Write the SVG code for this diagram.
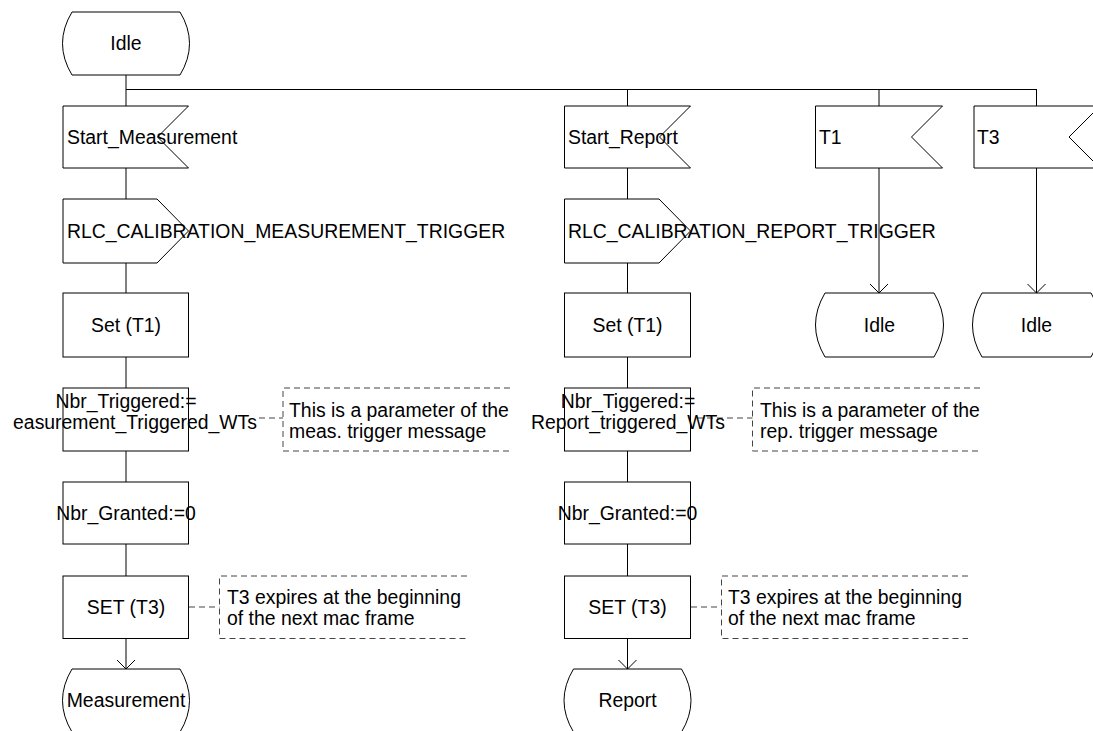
<svg xmlns="http://www.w3.org/2000/svg" width="1093" height="731" viewBox="0 0 1093 731">
<defs>
<marker id="arr" viewBox="0 0 20 20" markerWidth="20" markerHeight="20" refX="10" refY="10" orient="auto" markerUnits="userSpaceOnUse">
<path d="M1,1 L10,10 L1,19" fill="none" stroke="#000" stroke-width="1"/>
</marker>
</defs>
<style>
text{font-family:"Liberation Sans",Arial,sans-serif;font-size:19.4px;fill:#000}
.c{text-anchor:middle}
.e{text-anchor:end}
.sh{fill:#fff;stroke:#000;stroke-width:1}
.ln{fill:none;stroke:#000;stroke-width:1}
.cm{fill:none;stroke:#444;stroke-width:1;stroke-dasharray:6,4}
</style>
<rect width="1093" height="731" fill="#fff"/>
<g id="connectors">
<path class="ln" d="M126,75 V106 M126,89.5 H1036.5 M627.5,89 V106 M879,89 V106 M1036.5,89 V106"/>
<path class="ln" d="M126,168 V199 M126,263 V293 M126,357 V388 M126,451 V482 M126,544 V576"/>
<path class="ln" d="M627.5,168 V199 M627.5,263 V293 M627.5,357 V388 M627.5,451 V482 M627.5,544 V576"/>
<path class="ln" marker-end="url(#arr)" d="M126,638 V669"/>
<path class="ln" marker-end="url(#arr)" d="M627.5,638 V669"/>
<path class="ln" marker-end="url(#arr)" d="M879,168 V293"/>
<path class="ln" marker-end="url(#arr)" d="M1036.5,168 V293"/>
<path class="cm" d="M259,418 H283"/>
<path class="cm" d="M189,607 H219.5"/>
<path class="cm" d="M697,418 H752.5"/>
<path class="cm" d="M691,607 H721.5"/>
</g>
<g id="idle_start">
<path class="sh" d="M72,12 H180 Q199,43.5 180,75 H72 Q53,43.5 72,12 Z"/>
<text class="c" x="126" y="50">Idle</text>
</g>
<g id="start_measurement">
<path class="sh" d="M63,106 H188.5 L157.5,137 L188.5,168 H63 Z"/>
<text x="67" y="144">Start_Measurement</text>
</g>
<g id="rlc_meas_trigger">
<path class="sh" d="M63,199 H157 L188.5,231 L157,263 H63 Z"/>
<text x="67" y="237.5">RLC_CALIBRATION_MEASUREMENT_TRIGGER</text>
</g>
<g id="set_t1_a">
<rect class="sh" x="63" y="293" width="125.5" height="64"/>
<text class="c" x="126" y="332">Set (T1)</text>
</g>
<g id="nbr_triggered_a">
<rect class="sh" x="63" y="388" width="125.5" height="63"/>
<text class="c" x="126" y="408">Nbr_Triggered:=</text>
<text class="e" x="257" y="429">easurement_Triggered_WTs</text>
</g>
<g id="comment_meas">
<path class="cm" d="M510,388 H283 V451 H510"/>
<text x="289" y="416.5">This is a parameter of the</text>
<text x="289" y="437.5">meas. trigger message</text>
</g>
<g id="nbr_granted_a">
<rect class="sh" x="63" y="482" width="125.5" height="62"/>
<text class="c" x="126" y="519.5">Nbr_Granted:=0</text>
</g>
<g id="set_t3_a">
<rect class="sh" x="63" y="576" width="125.5" height="62.5"/>
<text class="c" x="126" y="613.5">SET (T3)</text>
</g>
<g id="comment_t3_a">
<path class="cm" d="M467,576 H219.5 V638.5 H467"/>
<text x="227" y="604">T3 expires at the beginning</text>
<text x="227" y="625">of the next mac frame</text>
</g>
<g id="measurement_state">
<path class="sh" d="M72,669 H180 Q199,700.5 180,732 H72 Q53,700.5 72,669 Z"/>
<text class="c" x="126" y="707">Measurement</text>
</g>
<g id="start_report">
<path class="sh" d="M564.5,106 H690.5 L659.5,137 L690.5,168 H564.5 Z"/>
<text x="568" y="144">Start_Report</text>
</g>
<g id="rlc_report_trigger">
<path class="sh" d="M564.5,199 H659 L690.5,231 L659,263 H564.5 Z"/>
<text x="568" y="237.5">RLC_CALIBRATION_REPORT_TRIGGER</text>
</g>
<g id="set_t1_b">
<rect class="sh" x="564.5" y="293" width="126" height="64"/>
<text class="c" x="627.5" y="332">Set (T1)</text>
</g>
<g id="nbr_triggered_b">
<rect class="sh" x="564.5" y="388" width="126" height="63"/>
<text class="c" x="628" y="408">Nbr_Tiggered:=</text>
<text class="e" x="725" y="429">Report_triggered_WTs</text>
</g>
<g id="comment_rep">
<path class="cm" d="M980,388 H752.5 V451 H980"/>
<text x="760" y="416.5">This is a parameter of the</text>
<text x="760" y="437.5">rep. trigger message</text>
</g>
<g id="nbr_granted_b">
<rect class="sh" x="564.5" y="482" width="126" height="62"/>
<text class="c" x="627.5" y="519.5">Nbr_Granted:=0</text>
</g>
<g id="set_t3_b">
<rect class="sh" x="564.5" y="576" width="126" height="62.5"/>
<text class="c" x="627.5" y="613.5">SET (T3)</text>
</g>
<g id="comment_t3_b">
<path class="cm" d="M968,576 H721.5 V638.5 H968"/>
<text x="728" y="604">T3 expires at the beginning</text>
<text x="728" y="625">of the next mac frame</text>
</g>
<g id="report_state">
<path class="sh" d="M573.5,669 H681.5 Q700.5,700.5 681.5,732 H573.5 Q554.5,700.5 573.5,669 Z"/>
<text class="c" x="627.5" y="707">Report</text>
</g>
<g id="t1_input">
<path class="sh" d="M815.5,106 H942.5 L911.5,137 L942.5,168 H815.5 Z"/>
<text x="819" y="144">T1</text>
</g>
<g id="idle_t1">
<path class="sh" d="M825,293 H934 Q953,325 934,357 H825 Q806,325 825,293 Z"/>
<text class="c" x="879.5" y="331.5">Idle</text>
</g>
<g id="t3_input">
<path class="sh" d="M974,106 H1100 L1069,137 L1100,168 H974 Z"/>
<text x="977" y="144">T3</text>
</g>
<g id="idle_t3">
<path class="sh" d="M982,293 H1091 Q1110,325 1091,357 H982 Q963,325 982,293 Z"/>
<text class="c" x="1036.5" y="331.5">Idle</text>
</g>
</svg>
